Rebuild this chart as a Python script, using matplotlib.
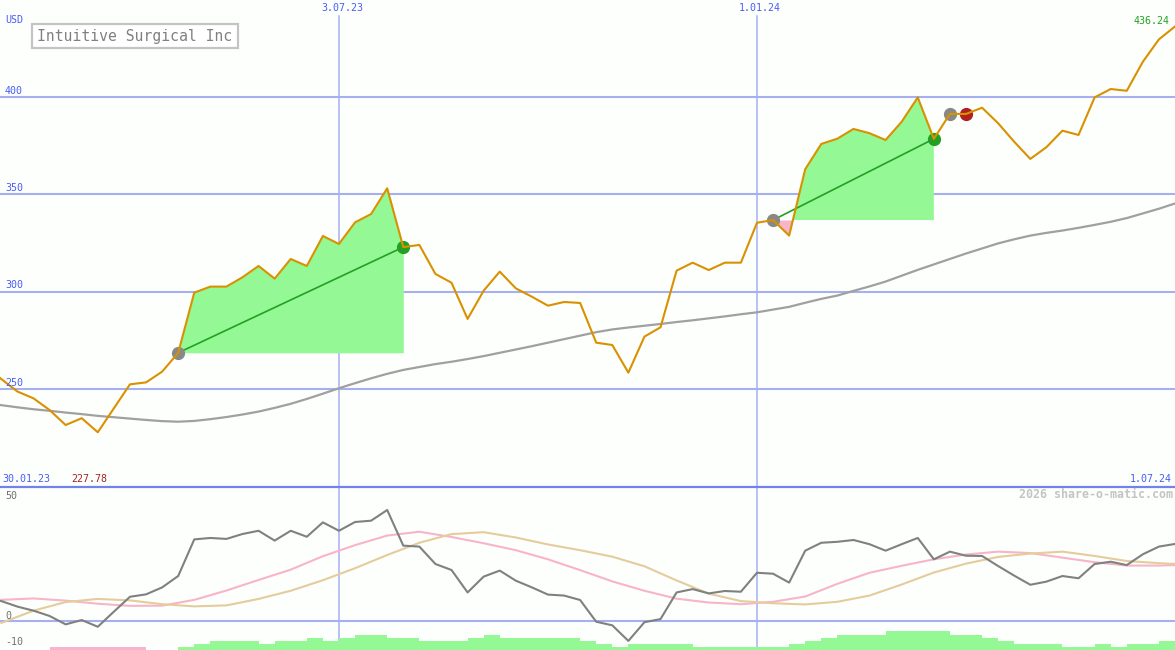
import numpy as np
import pandas as pd
import matplotlib
matplotlib.use('Agg')
import matplotlib.pyplot as plt
import matplotlib.dates as mdates
from matplotlib.patches import Rectangle
from matplotlib.lines import Line2D

# ---------------- data ----------------
weeks = pd.date_range('2023-01-30', periods=75, freq='7D')
price = [262.3, 255.1, 248.7, 245.2, 239.2, 231.5, 235.0, 227.78, 240.1, 252.4,
         253.4, 258.9, 268.6, 299.5, 302.6, 302.6, 307.4, 313.2, 306.7, 316.8,
         313.2, 328.6, 324.5, 335.6, 339.9, 353.1, 322.9, 324.0, 309.1, 304.6,
         286.0, 300.5, 310.3, 301.7, 297.4, 292.8, 294.7, 294.2, 273.8, 272.6,
         258.4, 276.9, 281.7, 310.8, 314.9, 311.1, 314.9, 314.9, 335.4, 336.8,
         328.8, 362.9, 375.9, 378.6, 383.6, 381.4, 377.9, 387.3, 399.8, 378.5,
         391.3, 391.3, 394.5, 386.5, 377.0, 368.2, 374.2, 382.7, 380.5, 399.8,
         404.1, 403.2, 418.1, 429.6, 436.24]
moving_avg = [242.6, 241.7, 240.6, 239.6, 238.8, 237.9, 237.1, 236.2, 235.5, 234.8,
              234.1, 233.5, 233.2, 233.6, 234.5, 235.6, 236.9, 238.4, 240.3, 242.4,
              244.9, 247.6, 250.4, 253.0, 255.5, 257.8, 259.8, 261.3, 262.8, 264.0,
              265.4, 266.9, 268.6, 270.3, 272.0, 273.8, 275.6, 277.4, 279.2, 280.6,
              281.6, 282.5, 283.4, 284.4, 285.3, 286.3, 287.3, 288.4, 289.4, 290.8,
              292.2, 294.3, 296.3, 298.0, 300.4, 302.7, 305.2, 308.2, 311.2, 314.0,
              316.8, 319.6, 322.2, 324.8, 326.9, 328.8, 330.2, 331.4, 332.8, 334.3,
              335.9, 337.8, 340.2, 342.6, 345.3]
# trades: (entry week index, exit week index)
trades = [(12, 26), (49, 59)]
open_entry = 60
sell_signal = 61

oscillator = [9.5, 8.3, 6.0, 4.3, 2.1, -1.4, 0.4, -2.4, 3.9, 10.1,
              11.1, 14.0, 18.75, 34.0, 34.6, 34.2, 36.25, 37.6, 33.5, 37.6,
              35.1, 41.1, 37.6, 41.25, 41.8, 46.25, 31.4, 31.0, 23.75, 21.25,
              11.9, 18.5, 21.0, 16.8, 14.0, 11.0, 10.6, 8.75, -0.3, -1.8,
              -8.3, -0.5, 0.8, 11.9, 13.3, 11.5, 12.5, 12.2, 20.1, 19.7,
              16.0, 29.3, 32.6, 33.0, 33.75, 32.0, 29.3, 32.0, 34.6, 25.7,
              28.9, 27.2, 27.1, 22.9, 18.9, 15.1, 16.4, 18.75, 17.8, 23.75,
              24.7, 23.3, 27.8, 31.0, 32.1]
smooth_idx = list(range(1, 75, 2)) + [74]
pink_avg = [8.8, 9.4, 8.5, 7.2, 6.3, 6.4, 8.8, 12.7, 17.1, 21.4,
            27.0, 31.6, 35.6, 37.2, 35.0, 32.4, 29.5, 25.7, 21.2, 16.5,
            12.6, 9.3, 7.7, 7.0, 8.0, 10.2, 15.5, 20.1, 23.0, 25.7,
            27.7, 28.9, 28.3, 26.4, 24.5, 23.1, 23.1, 23.3]
tan_avg = [-0.8, 4.3, 7.9, 9.2, 8.6, 7.0, 6.1, 6.5, 9.2, 12.6,
           17.0, 22.0, 27.5, 32.6, 36.2, 37.0, 34.8, 31.9, 29.5, 26.8,
           22.8, 16.9, 11.4, 8.3, 7.4, 6.9, 8.0, 10.6, 15.2, 20.2,
           23.9, 26.7, 28.1, 28.9, 27.1, 25.0, 24.1, 23.75]
signal_bars = [0, 0, 0, 0, -1, -1, -1, -1, -1, -1,
               0, 0, 1, 2, 3, 3, 3, 2, 3, 3,
               4, 3, 4, 5, 5, 4, 4, 3, 3, 3,
               4, 5, 4, 4, 4, 4, 4, 3, 2, 1,
               2, 2, 2, 2, 1, 1, 1, 1, 1, 1,
               2, 3, 4, 5, 5, 5, 6, 6, 6, 6,
               5, 5, 4, 3, 2, 2, 2, 1, 1, 2,
               1, 2, 2, 3]
price_ticks = [250, 300, 350, 400]
osc_ticks = [50, 0, -10]
date_lines = ['2023-07-03', '2024-01-01']
date_labels = ['3.07.23', '1.01.24']
title = 'Intuitive Surgical Inc'

# ---------------- figure ----------------
W, H = 1175, 650
BG = '#fdfffd'
GRID = '#a4b0f0'
BLUE_TXT = '#4a5cf2'
MONO = 'DejaVu Sans Mono'

fig = plt.figure(figsize=(W / 100, H / 100), dpi=100, facecolor=BG)

def fp(x, y):
    return x / W, 1 - y / H

x = mdates.date2num(weeks)
xleft = mdates.date2num(pd.Timestamp('2023-02-05 10:00'))
xright = mdates.date2num(pd.Timestamp('2024-07-01'))

ax = fig.add_axes([0, 163 / H, 1, 487 / H])
ax.set_facecolor(BG)
ax.set_xlim(xleft, xright)
ax.set_ylim(199.66, 449.83)
ax.axis('off')

for t in price_ticks:
    ax.axhline(t, color=GRID, lw=1.5, zorder=1)
for d in date_lines:
    ax.axvline(mdates.date2num(pd.Timestamp(d)), ymax=(487 - 16) / 487,
               color=GRID, lw=1.1, zorder=1)

p = np.array(price)
ax.plot(x, moving_avg, color='#a0a0a0', lw=1.6, zorder=3)

for (a, b) in trades:
    xs = x[a:b + 1]
    ys = p[a:b + 1]
    base = p[a]
    ax.fill_between(xs, base, ys, where=ys >= base, interpolate=True,
                    color='#94f894', lw=0, zorder=2)
    ax.fill_between(xs, base, ys, where=ys < base, interpolate=True,
                    color='#f8b4c8', lw=0, zorder=2)
    ax.plot([x[a], x[b]], [p[a], p[b]], color='#23a023', lw=1.2, zorder=4)
    ax.plot(x[a], p[a], 'o', ms=8.5, color='#888888', zorder=4)
    ax.plot(x[b], p[b], 'o', ms=8.5, color='#23a023', zorder=4)

ax.plot(x[open_entry], p[open_entry], 'o', ms=8.5, color='#888888', zorder=4)
ax.plot(x[sell_signal], p[sell_signal], 'o', ms=8.5, color='#b02020', zorder=4)
ax.plot(x, p, color='#d99100', lw=1.5, zorder=5)

# ---------------- lower panel ----------------
lo = fig.add_axes([0, 0, 1, 163 / H])
lo.set_facecolor(BG)
lo.set_xlim(xleft, xright)
lo.set_ylim(-12.08, 55.83)
lo.axis('off')
lo.axhline(0, color=GRID, lw=1.5, zorder=1)
for d in date_lines:
    lo.axvline(mdates.date2num(pd.Timestamp(d)), color=GRID, lw=1.1, zorder=1)

bx = lo.twinx()
bx.set_xlim(xleft, xright)
bx.set_ylim(0, 163 / 3.1)
bx.axis('off')
sb = np.array(signal_bars)
cols = ['#94f894' if v > 0 else '#f8b4c8' for v in sb]
bx.bar(x[:-1], np.abs(sb), width=7, align='edge', color=cols, lw=0, zorder=2)

xs_s = x[smooth_idx]
lo.plot(xs_s, pink_avg, color='#f8b4c8', lw=1.5, zorder=3)
lo.plot(xs_s, tan_avg, color='#e4cc9c', lw=1.5, zorder=3)
lo.plot(x, oscillator, color='#808080', lw=1.5, zorder=4)

# separator
fig.add_artist(Line2D([0, 1], [163 / H, 163 / H], color='#7282ea', lw=1.6,
                      transform=fig.transFigure))

# ---------------- texts ----------------
fs = 7.2
fig.text(*fp(5, 25), 'USD', color=BLUE_TXT, fontsize=fs, family=MONO, va='bottom', ha='left')
for t in price_ticks:
    ypx = 487 - (t - 199.66) * 487 / (449.83 - 199.66)
    fig.text(*fp(5, ypx - 1.5), str(t), color=BLUE_TXT, fontsize=fs,
             family=MONO, va='bottom', ha='left')
for d, lab in zip(date_lines, date_labels):
    xd = (mdates.date2num(pd.Timestamp(d)) - xleft) / (xright - xleft) * W
    fig.text(*fp(xd + 3, 13), lab, color=BLUE_TXT, fontsize=fs, family=MONO,
             va='bottom', ha='center')
fig.text(*fp(1170, 26), f'{price[-1]:.2f}', color='#22a022', fontsize=fs,
         family=MONO, va='bottom', ha='right')
fig.text(*fp(2, 484), weeks[0].strftime('%d.%m.%y'), color=BLUE_TXT, fontsize=fs,
         family=MONO, va='bottom', ha='left')
fig.text(*fp(71, 484), f'{min(price):.2f}', color='#a02424', fontsize=fs,
         family=MONO, va='bottom', ha='left')
fig.text(*fp(1172, 484), '1.07.24', color=BLUE_TXT, fontsize=fs,
         family=MONO, va='bottom', ha='right')
fig.text(*fp(1173, 501), '2026 share-o-matic.com', color='#c4c4c4', fontsize=8.4,
         family=MONO, va='bottom', ha='right', weight='bold')
for t in osc_ticks:
    ypx = 621 - t * 2.4
    if t == 50:
        ypx = 501
    if t == -10:
        ypx = 647
    fig.text(*fp(5, ypx), str(t), color='#707070', fontsize=fs, family=MONO,
             va='bottom', ha='left')

# title box
fig.add_artist(Rectangle(fp(32, 48), 206 / W, 24 / H, transform=fig.transFigure,
                         fc='white', ec='#c4c4c4', lw=1.6, zorder=10))
fig.text(*fp(135, 36.5), title, color='#808080', fontsize=10.6, family=MONO,
         va='center', ha='center', zorder=11)

fig.savefig('out.png', dpi=100, facecolor=BG)
